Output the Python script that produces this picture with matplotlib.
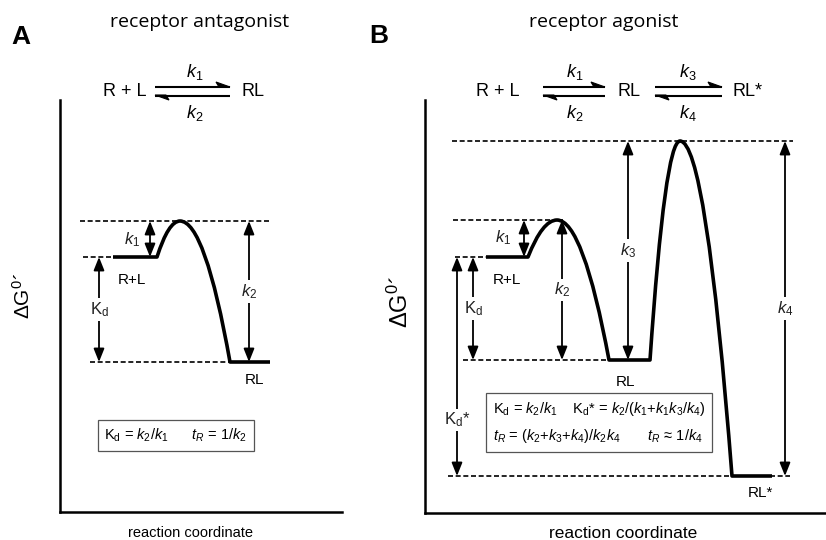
import matplotlib
matplotlib.use("Agg")
import matplotlib.pyplot as plt
from matplotlib.path import Path
from matplotlib.patches import PathPatch, Polygon

plt.rcParams['font.family'] = ['Liberation Sans', 'DejaVu Sans']
plt.rcParams['mathtext.fontset'] = 'custom'
plt.rcParams['mathtext.rm'] = 'Liberation Sans'
plt.rcParams['mathtext.it'] = 'Liberation Sans:italic'
plt.rcParams['mathtext.bf'] = 'Liberation Sans:bold'

# ---- panel A: R+L -> transition state -> RL (free energy, arbitrary units)
a_energy = [25.5, 29.1, 15.0]
a_left = [5.3, 12.0, 17.0]     # reaction coordinate where each state starts
a_right = [9.7, 12.0, 21.0]    # ... and where it ends
a_names = ['R+L', '', 'RL']
a_guide_from = [2.3, 2.0, 3.0]
a_guide_to = [5.3, 21.0, 17.0]
a_arr_x = [9.0, 3.9, 18.9]
a_arr_lo = [0, 2, 2]
a_arr_hi = [1, 0, 1]
a_arr_lab = [r'$k_1$', r'K$_\mathrm{d}$', r'$k_2$']

# ---- panel B: R+L -> TS1 -> RL -> TS2 -> RL*
b_energy = [25.6, 29.3, 15.3, 37.2, 3.7]
b_left = [6.1, 13.2, 18.4, 25.5, 30.7]
b_right = [10.3, 13.2, 22.5, 25.5, 34.7]
b_names = ['R+L', '', 'RL', '', 'RL*']
b_guide_from = [3.0, 2.8, 3.8, 2.7, 2.3]
b_guide_to = [6.1, 13.8, 18.4, 36.8, 36.5]
b_arr_x = [9.9, 4.8, 3.2, 13.7, 20.3, 36.0]
b_arr_lo = [0, 2, 4, 2, 2, 4]
b_arr_hi = [1, 0, 0, 1, 3, 3]
b_arr_lab = [r'$k_1$', r'K$_\mathrm{d}$', r'K$_\mathrm{d}$*', r'$k_2$', r'$k_3$', r'$k_4$']

a_box = r'K$_\mathrm{d}$ = $k_2$/$k_1$      $t_R$ = 1/$k_2$'
b_box = (r'K$_\mathrm{d}$ = $k_2$/$k_1$    K$_\mathrm{d}$* = $k_2$/($k_1$+$k_1k_3$/$k_4$)' + '\n'
         r'$t_R$ = ($k_2$+$k_3$+$k_4$)/$k_2k_4$       $t_R$ ≈ 1/$k_4$')

W, H = 826, 540


def profile(energy, left, right):
    verts = [(left[0], energy[0]), (right[0], energy[0])]
    codes = [Path.MOVETO, Path.LINETO]
    for i in range(1, len(energy)):
        x0, x1 = right[i - 1], left[i]
        top = max(energy[i], energy[i - 1])
        verts += [((x0 + x1) / 2, top), (x1, energy[i])]
        codes += [Path.CURVE3, Path.CURVE3]
        if right[i] > left[i]:
            verts.append((right[i], energy[i]))
            codes.append(Path.LINETO)
    return Path(verts, codes)


def draw_panel(ax, energy, left, right, names, g_from, g_to,
               arr_x, arr_lo, arr_hi, arr_lab, side_lab, name_pos, box_txt, box_xy):
    for e, x0, x1 in zip(energy, g_from, g_to):
        ax.plot([x0, x1], [e, e], color='k', lw=1.2, ls=(0, (3, 1.6)), zorder=1)
    ax.add_patch(PathPatch(profile(energy, left, right), fill=False, lw=2.6,
                           ec='k', joinstyle='round', capstyle='butt', zorder=3))
    for i, (x, lo, hi, lab) in enumerate(zip(arr_x, arr_lo, arr_hi, arr_lab)):
        ax.annotate('', xy=(x, energy[hi]), xytext=(x, energy[lo]),
                    arrowprops=dict(arrowstyle='<|-|>,head_length=0.8,head_width=0.32',
                                    lw=1.3, color='k', shrinkA=0, shrinkB=0,
                                    mutation_scale=10), zorder=2)
        if i in side_lab:
            lx, ly, boxed = side_lab[i]
        else:
            lx, ly, boxed = x, (energy[lo] + energy[hi]) / 2, True
        ax.text(lx, ly, lab, ha='center', va='center', fontsize=12, color='#222',
                bbox=dict(fc='white', ec='none', pad=1.5) if boxed else None, zorder=4)
    for n, pos in zip(names, name_pos):
        if n:
            ax.text(pos[0], pos[1], n, ha='center', va='center', fontsize=11)
    ax.text(box_xy[0], box_xy[1], box_txt, ha='center', va='center', fontsize=10.5,
            multialignment='left', linespacing=1.7,
            bbox=dict(boxstyle='square,pad=0.45', fc='white', ec='#555', lw=0.9))
    for s in ['top', 'right']:
        ax.spines[s].set_visible(False)
    for s in ['left', 'bottom']:
        ax.spines[s].set_linewidth(1.8)
    ax.set_xticks([])
    ax.set_yticks([])
    ax.patch.set_visible(False)


fig = plt.figure(figsize=(W / 100, H / 100), dpi=100)

axA = fig.add_axes([60 / W, 28 / H, 282 / W, 412 / H])
axA.set_xlim(0, 28.2)
axA.set_ylim(0, 41.2)
draw_panel(axA, a_energy, a_left, a_right, a_names, a_guide_from, a_guide_to,
           a_arr_x, a_arr_lo, a_arr_hi, a_arr_lab,
           {0: (7.2, 27.2, False)}, [(7.2, 23.2), None, (19.5, 13.2)],
           a_box, (11.6, 7.65))

axB = fig.add_axes([425 / W, 27 / H, 400 / W, 413 / H])
axB.set_xlim(0, 40.0)
axB.set_ylim(0, 41.3)
draw_panel(axB, b_energy, b_left, b_right, b_names, b_guide_from, b_guide_to,
           b_arr_x, b_arr_lo, b_arr_hi, b_arr_lab,
           {0: (7.8, 27.5, False), 2: (3.2, 9.3, True)},
           [(8.2, 23.3), None, (20.0, 13.1), None, (33.5, 2.0)],
           b_box, (17.4, 9.05))

# overlay in pixel units for the reaction schemes above the panels
ov = fig.add_axes([0, 0, 1, 1])
ov.set_xlim(0, W)
ov.set_ylim(H, 0)
ov.set_axis_off()
ov.patch.set_visible(False)


def harpoon(x0, x1, yt=86.5, yb=95.5):
    ov.plot([x0, x1], [yt, yt], color='k', lw=1.5, solid_capstyle='butt')
    ov.plot([x0, x1], [yb, yb], color='k', lw=1.5, solid_capstyle='butt')
    ov.add_patch(Polygon([(x1, yt + 0.5), (x1 - 14, yt - 4.5), (x1 - 11, yt + 0.5)],
                         closed=True, fc='k', ec='k', lw=0.8))
    ov.add_patch(Polygon([(x0, yb - 0.5), (x0 + 14, yb + 4.5), (x0 + 11, yb - 0.5)],
                         closed=True, fc='k', ec='k', lw=0.8))


def eq_text(x, y, s, size=13):
    ov.text(x, y, s, ha='center', va='center', fontsize=size)


# scheme A
eq_text(125, 92, 'R + L')
harpoon(155, 230)
eq_text(253, 92, 'RL')
eq_text(195, 72, r'$k_1$')
eq_text(195, 113, r'$k_2$')

# scheme B
eq_text(498, 92, 'R + L')
harpoon(543, 605)
eq_text(629, 92, 'RL')
harpoon(655, 722)
eq_text(748, 92, 'RL*')
eq_text(575, 72, r'$k_1$')
eq_text(575, 113, r'$k_2$')
eq_text(688, 72, r'$k_3$')
eq_text(688, 113, r'$k_4$')

# titles, panel letters, axis labels
ov.text(21, 37, 'A', ha='center', va='center', fontsize=19, fontweight='bold')
ov.text(379, 36, 'B', ha='center', va='center', fontsize=19, fontweight='bold')
ov.text(200, 22, 'receptor antagonist', ha='center', va='center', fontsize=14,
        family='Open Sans')
ov.text(604, 22, 'receptor agonist', ha='center', va='center', fontsize=14,
        family='Open Sans')
ov.text(23, 296, r'$\mathrm{\Delta G}^{0}$´', ha='center', va='center', rotation=90,
        fontsize=15)
ov.text(400, 302, r'$\mathrm{\Delta G}^{0}$´', ha='center', va='center', rotation=90,
        fontsize=17)
ov.text(190, 533, 'reaction coordinate', ha='center', va='center', fontsize=10.5)
ov.text(623, 533, 'reaction coordinate', ha='center', va='center', fontsize=12.5)

fig.savefig('out.png', dpi=100)
